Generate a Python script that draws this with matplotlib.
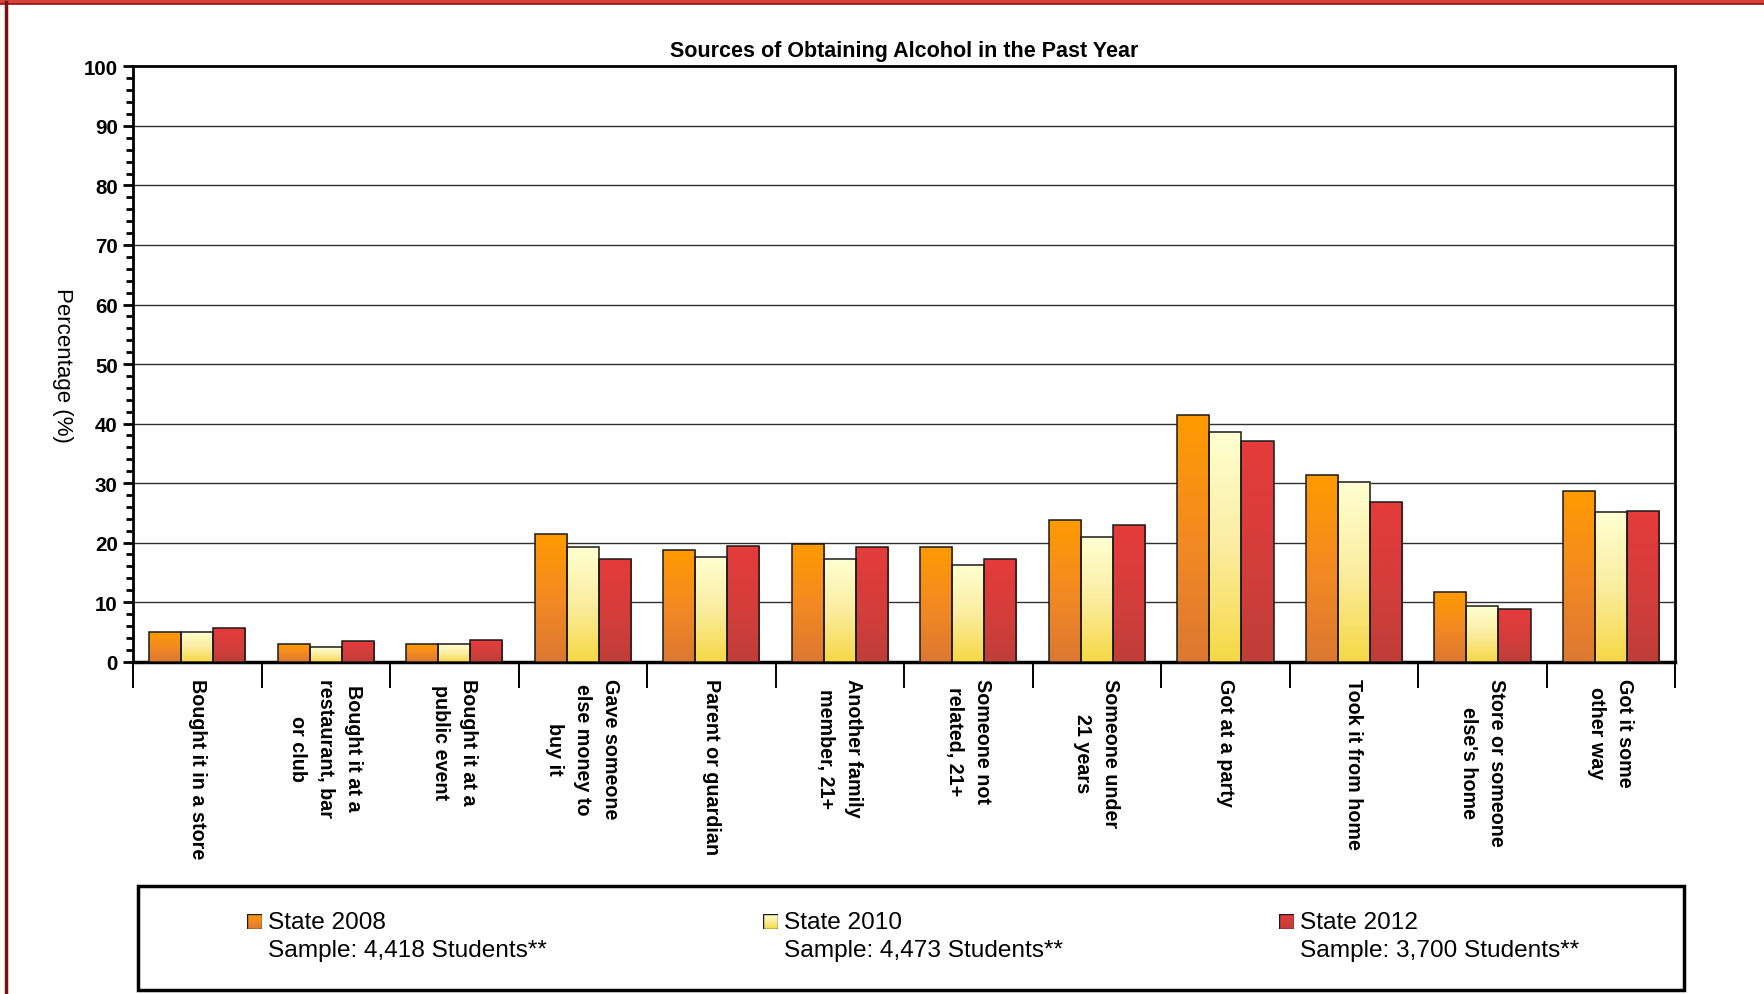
import numpy as np
import matplotlib.pyplot as plt
from matplotlib.colors import LinearSegmentedColormap
from matplotlib.patches import Rectangle
from matplotlib.lines import Line2D

plt.rcParams['font.family'] = ['Liberation Sans', 'DejaVu Sans']

# data
categories = [
    'Bought it in a store',
    'Bought it at a\nrestaurant, bar\nor club',
    'Bought it at a\npublic event',
    'Gave someone\nelse money to\nbuy it',
    'Parent or guardian',
    'Another family\nmember, 21+',
    'Someone not\nrelated, 21+',
    'Someone under\n21 years',
    'Got at a party',
    'Took it from home',
    "Store or someone\nelse's home",
    'Got it some\nother way',
]
series_names = ['State 2008', 'State 2010', 'State 2012']
sample_labels = ['Sample: 4,418 Students**', 'Sample: 4,473 Students**', 'Sample: 3,700 Students**']
state_2008 = [5.0, 2.9, 2.9, 21.4, 18.7, 19.7, 19.3, 23.8, 41.4, 31.3, 11.7, 28.6]
state_2010 = [5.0, 2.4, 2.9, 19.2, 17.5, 17.2, 16.2, 21.0, 38.6, 30.1, 9.3, 25.1]
state_2012 = [5.6, 3.4, 3.6, 17.2, 19.4, 19.3, 17.2, 23.0, 37.1, 26.8, 8.8, 25.3]

# gradient stops, bottom -> top
gradients = [
    ['#DC7832', '#F38A22', '#FF9A00'],
    ['#F6D844', '#FBEDA0', '#FFFFD2'],
    ['#C03E38', '#D53D3B', '#E53B3B'],
]


def gradient_fill(ax, patch, stops, extent):
    cmap = LinearSegmentedColormap.from_list('g', stops)
    grad = np.linspace(0, 1, 256).reshape(-1, 1)
    im = ax.imshow(grad, extent=extent, origin='lower', cmap=cmap,
                   aspect='auto', zorder=patch.get_zorder() - 0.1,
                   interpolation='bilinear')
    im.set_clip_path(patch)
    return im


fig = plt.figure(figsize=(17.64, 9.95), dpi=100)
ax = fig.add_axes([0.0754, 0.3341, 0.8742, 0.5981])

x = np.arange(len(categories))
width = 0.25
all_series = [state_2008, state_2010, state_2012]
for i, vals in enumerate(all_series):
    bars = ax.bar(x + (i - 1) * width, vals, width, facecolor='none',
                  edgecolor='#1a1a1a', linewidth=1.1, zorder=3)
    for b in bars:
        gradient_fill(ax, b, gradients[i],
                      [b.get_x(), b.get_x() + b.get_width(), 0, b.get_height()])

ax.set_xlim(-0.5, len(categories) - 0.5)
ax.set_ylim(0, 100)

# gridlines
ax.set_yticks(np.arange(0, 101, 10))
ax.set_yticks(np.arange(0, 101, 2), minor=True)
for yv in range(10, 100, 10):
    ax.axhline(yv, color='#303030', linewidth=1.0, zorder=1)

ax.tick_params(axis='y', which='major', length=7, width=2, labelsize=14.8, pad=4)
ax.tick_params(axis='y', which='minor', length=5, width=2)
for lbl in ax.get_yticklabels():
    lbl.set_fontweight('bold')

ax.set_xticks(x)
ax.set_xticklabels(categories, rotation=-90, ha='center', va='top',
                   fontsize=14.2, fontweight='bold', linespacing=1.6)
ax.set_xticks(np.arange(-0.5, len(categories)), minor=True)
ax.tick_params(axis='x', which='major', length=0, pad=12)
ax.tick_params(axis='x', which='minor', length=19, width=1.4)

for side in ['left', 'top', 'right']:
    ax.spines[side].set_linewidth(2)
ax.spines['bottom'].set_linewidth(2.5)

fig.text(0.5128, 0.948, 'Sources of Obtaining Alcohol in the Past Year',
         ha='center', va='center', fontsize=15.5, fontweight='bold')
fig.text(0.0355, 0.6325, 'Percentage (%)', rotation=-90, ha='center',
         va='center', fontsize=16)

# legend box
fig.add_artist(Rectangle((0.0782, 0.004), 0.8764, 0.105, transform=fig.transFigure,
                         facecolor='none', edgecolor='black', linewidth=2.5))
swatch_x = [0.1400, 0.4326, 0.7251]
for i, name in enumerate(series_names):
    sx = swatch_x[i]
    sax = fig.add_axes([sx, 0.0653, 0.0085, 0.0151])
    sax.set_xlim(0, 1)
    sax.set_ylim(0, 1)
    sq = Rectangle((0, 0), 1, 1, facecolor='none', edgecolor='#1a1a1a',
                   linewidth=1.0, zorder=3)
    sax.add_patch(sq)
    gradient_fill(sax, sq, gradients[i], [0, 1, 0, 1])
    sax.set_xlim(0, 1)
    sax.set_ylim(0, 1)
    sax.axis('off')
    fig.text(sx + 0.0119, 0.0728, name, ha='left', va='center', fontsize=17.6)
    fig.text(sx + 0.0119, 0.0446, sample_labels[i], ha='left', va='center', fontsize=17.6)

# page border (red frame)
fig.add_artist(Rectangle((0, 0.995), 1, 0.005, transform=fig.transFigure,
                         facecolor='#D9423C', edgecolor='none'))
fig.add_artist(Line2D([0, 1], [0.9945, 0.9945], transform=fig.transFigure,
                      color='#8B1414', linewidth=1.2))
fig.add_artist(Line2D([0.0035, 0.0035], [0, 0.997], transform=fig.transFigure,
                      color='#7A1010', linewidth=2.5))

fig.savefig('out.png', dpi=100)
